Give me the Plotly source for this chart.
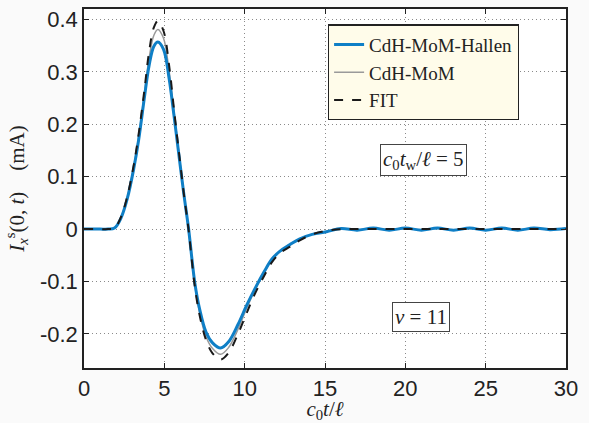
import plotly.graph_objects as go

# time samples c0 t / l
t = [0, 1.0, 1.5, 1.9, 2.3, 2.7, 3.1, 3.4, 3.75, 4.05, 4.35, 4.6, 4.95, 5.3, 5.6, 5.9,
     6.2, 6.5, 6.9, 7.2, 7.6, 8.0, 8.5, 9.0, 9.6, 10.1, 10.6, 11.2, 11.7, 12.2, 12.8,
     13.4, 14.2, 15.1, 16.0, 17.0, 18.0, 19.0, 20.0, 21.0, 22.0, 23.0, 24.0, 25.0,
     26.0, 27.0, 28.0, 29.0, 30.0]

hallen = [0, 0, 0, 0.002, 0.021, 0.059, 0.116, 0.170, 0.249, 0.312, 0.349, 0.357, 0.343,
          0.287, 0.217, 0.143, 0.070, 0.003, -0.103, -0.153, -0.197, -0.217, -0.227,
          -0.215, -0.181, -0.147, -0.116, -0.082, -0.057, -0.042, -0.030, -0.019, -0.010,
          -0.005, 0.001, -0.002, 0.002, -0.002, 0.002, -0.002, 0.002, -0.002, 0.002,
          -0.002, 0.002, -0.002, 0.002, -0.001, 0.001]

mom = [0, 0, 0, 0.002, 0.022, 0.061, 0.120, 0.176, 0.257, 0.326, 0.370, 0.381, 0.364,
       0.301, 0.225, 0.147, 0.071, 0.002, -0.107, -0.160, -0.206, -0.228, -0.239,
       -0.226, -0.190, -0.153, -0.119, -0.084, -0.058, -0.043, -0.031, -0.019, -0.010,
       -0.004, 0.001, -0.001, 0.001, -0.001, 0.001, -0.001, 0.001, -0.001, 0.001,
       -0.001, 0.001, -0.001, 0.001, -0.001, 0.001]

fit = [0, 0, 0, 0.002, 0.023, 0.063, 0.123, 0.181, 0.263, 0.338, 0.385, 0.397, 0.378,
       0.312, 0.229, 0.149, 0.071, 0.001, -0.110, -0.165, -0.212, -0.237, -0.249,
       -0.236, -0.199, -0.162, -0.126, -0.090, -0.063, -0.046, -0.034, -0.022, -0.010,
       -0.003, 0, 0, 0, 0, 0, 0, 0, 0, 0, 0, 0, 0, 0, 0, 0]

xticks = [0, 5, 10, 15, 20, 25, 30]
yticks = [-0.2, -0.1, 0, 0.1, 0.2, 0.3, 0.4]
yticklabels = ["-0.2", "-0.1", "0", "0.1", "0.2", "0.3", "0.4"]

fig = go.Figure()
fig.add_trace(go.Scatter(x=t, y=mom, mode="lines", name="CdH-MoM", legendrank=2,
                         line=dict(color="#9a9a9a", width=1.5, shape="spline")))
fig.add_trace(go.Scatter(x=t, y=hallen, mode="lines", name="CdH-MoM-Hallen", legendrank=1,
                         line=dict(color="#0f7fc6", width=3, shape="spline")))
fig.add_trace(go.Scatter(x=t, y=fit, mode="lines", name="FIT", legendrank=3,
                         line=dict(color="#1a1a1a", width=2, dash="dash", shape="spline")))

axis_common = dict(showline=True, linecolor="#222", linewidth=1.5, mirror="ticks",
                   ticks="inside", ticklen=5, tickcolor="#222", showgrid=True,
                   gridcolor="#8a8a8a", griddash="1px,3px", gridwidth=1, zeroline=False,
                   tickfont=dict(family="Liberation Sans, Arial", size=22, color="#222"))

fig.update_layout(
    width=589, height=423,
    margin=dict(l=84, r=23, t=7, b=55),
    paper_bgcolor="#fafafa", plot_bgcolor="white",
    xaxis=dict(range=[0, 30], tickvals=xticks, ticktext=[str(v) for v in xticks],
               title=dict(text="<i>c</i><sub>0</sub><i>t</i>/<i>ℓ</i>", standoff=0,
                          font=dict(family="Liberation Serif", size=21, color="#222")),
               **axis_common),
    yaxis=dict(range=[-0.265, 0.42], tickvals=yticks, ticktext=yticklabels,
               title=dict(text="<i>I</i><sub><i>x</i></sub><sup>s</sup>(0, <i>t</i>)    (mA)",
                          standoff=10,
                          font=dict(family="Liberation Serif", size=21, color="#222")),
               **axis_common),
    legend=dict(x=0.506, y=0.957, xanchor="left", yanchor="top",
                bgcolor="#fffcea", bordercolor="#222", borderwidth=1.2,
                font=dict(family="Liberation Serif", size=19, color="#222"),
                tracegroupgap=0, itemwidth=30),
    showlegend=True,
)

fig.add_annotation(x=21.1, y=0.131, xref="x", yref="y", showarrow=False,
                   text="<i>c</i><sub>0</sub><i>t</i><sub>w</sub>/<i>ℓ</i> = 5",
                   font=dict(family="Liberation Serif", size=21, color="#222"),
                   bgcolor="white", bordercolor="#444", borderwidth=1, borderpad=2)
fig.add_annotation(x=21.0, y=-0.168, xref="x", yref="y", showarrow=False,
                   text="<i>ν</i> = 11",
                   font=dict(family="Liberation Serif", size=21, color="#222"),
                   bgcolor="white", bordercolor="#444", borderwidth=1, borderpad=2)

fig.write_html("out.html", config={"displayModeBar": False},
               post_script="document.body.style.margin='0';")
